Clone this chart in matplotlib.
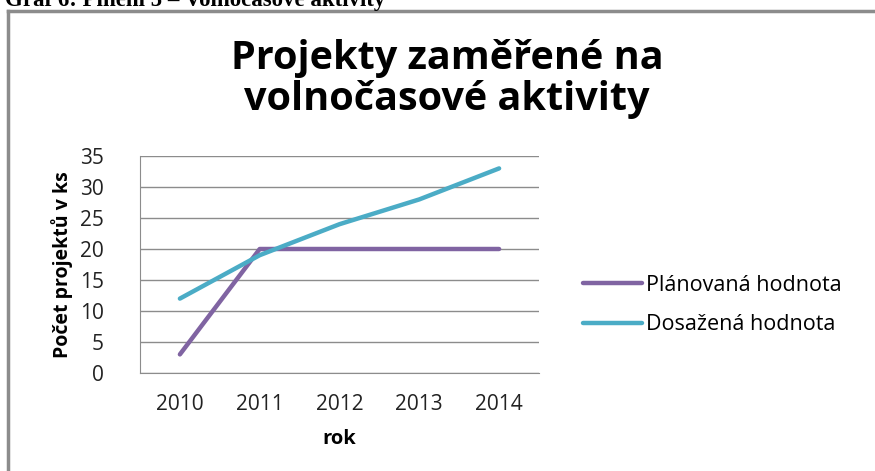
import matplotlib
matplotlib.use('Agg')
from matplotlib import pyplot as plt

roky = ["2010", "2011", "2012", "2013", "2014"]
planovana = [3, 20, 20, 20, 20]
dosazena = [12, 19, 24, 28, 33]

plt.rcParams['font.family'] = ['Open Sans', 'DejaVu Sans']

fig = plt.figure(figsize=(8.75, 4.71), dpi=100)
ax = fig.add_axes([140 / 875, 1 - 373 / 471, 399 / 875, 217 / 471])

x = list(range(len(roky)))
ax.plot(x, planovana, color='#8064A2', lw=3.2, solid_capstyle='round', label='Plánovaná hodnota')
ax.plot(x, dosazena, color='#4BACC6', lw=3.2, solid_capstyle='round', label='Dosažená hodnota')

ax.set_xlim(-0.5, len(roky) - 0.5)
ax.set_ylim(0, 35)
ax.set_yticks(range(0, 36, 5))
ax.set_xticks(x)
ax.set_xticklabels(roky)
ax.tick_params(length=0, labelsize=15, colors='#222222')
ax.tick_params(axis='x', pad=15)
ax.tick_params(axis='y', pad=26)
ax.yaxis.grid(True, color='#8c8c8c', lw=1)
ax.set_axisbelow(True)
for s in ['top', 'right']:
    ax.spines[s].set_visible(False)
for s in ['left', 'bottom']:
    ax.spines[s].set_color('#8c8c8c')

ax.set_xlabel('rok', fontsize=14.5, fontweight='bold', labelpad=10)
ax.set_ylabel('Počet projektů v ks', fontsize=14, fontweight='bold', labelpad=5)

fig.text(447 / 875, 1 - 79 / 471, 'Projekty zaměřené na\nvolnočasové aktivity',
         ha='center', va='center', fontsize=28.5, fontweight='bold', linespacing=1.05)

fig.legend(loc='center left', bbox_to_anchor=(564 / 875, 1 - 305 / 471), frameon=False,
           fontsize=15.5, handlelength=2.7, handletextpad=0.2, labelspacing=0.85)

# ramecek a orezany nadpis nahore
fig.add_artist(plt.Line2D([8 / 875, 8 / 875], [0, 1 - 11 / 471], color='#8c8c8c', lw=2.5))
fig.add_artist(plt.Line2D([8 / 875, 1], [1 - 11 / 471, 1 - 11 / 471], color='#8c8c8c', lw=2.5))
fig.text(5 / 875, 1 - 6 / 471, 'Graf 6: Plnění 5 – Volnočasové aktivity',
         family='Liberation Serif', fontweight='bold', fontsize=16.5, va='baseline')

fig.savefig('out.png', dpi=100)
